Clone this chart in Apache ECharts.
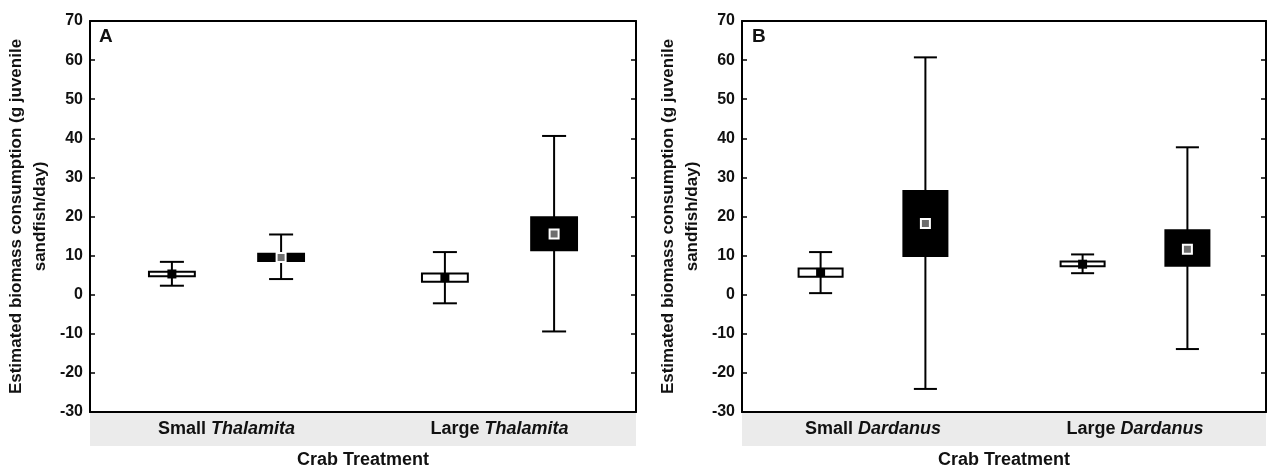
<!DOCTYPE html>
<html>
<head>
<meta charset="utf-8">
<title>Crab Treatment</title>
<script src="https://cdn.jsdelivr.net/npm/echarts@6/dist/echarts.min.js"></script>
<style>
  html, body { margin: 0; padding: 0; background: #fff; }
  #chart { width: 1268px; height: 468px; }
</style>
</head>
<body>
<div id="chart"></div>
<script>
  // categories
  var categoriesA = ['Small Thalamita', 'Large Thalamita'];
  var categoriesB = ['Small Dardanus', 'Large Dardanus'];

  // y axis ticks
  var yMin = -30;
  var yMax = 70;
  var yStep = 10;

  // each item: [min, lower box, mean, upper box, max]
  var openA = [[2.3, 4.7, 5.3, 5.9, 8.4], [-2.2, 3.3, 4.4, 5.4, 10.9]];
  var filledA = [[4.0, 8.6, 9.5, 10.5, 15.4], [-9.4, 11.4, 15.5, 19.8, 40.6]];
  var openB = [[0.4, 4.6, 5.7, 6.7, 10.9], [5.5, 7.3, 7.8, 8.5, 10.3]];
  var filledB = [[-24.1, 9.9, 18.2, 26.5, 60.7], [-13.9, 7.4, 11.6, 16.5, 37.7]];

  var yTitle = 'Estimated biomass consumption (g juvenile\nsandfish/day)';
  var xTitle = 'Crab Treatment';
  var font = "'Liberation Sans', Arial, sans-serif";

  var chart = echarts.init(document.getElementById('chart'));

  var gridA = { left: 90, right: 632, top: 21, bottom: 56, containLabel: false, outerBoundsMode: 'none' };
  var gridB = { left: 742, right: 2, top: 21, bottom: 56, containLabel: false, outerBoundsMode: 'none' };
  var bandA = (1268 - gridA.left - gridA.right) / 2;
  var bandB = (1268 - gridB.left - gridB.right) / 2;

  function withIndex(rows) {
    return rows.map(function (r, i) { return [i].concat(r); });
  }

  // box + whisker + mean marker, shifted left (-1) or right (+1) inside the category
  function boxSeries(rows, filled, side, axisIdx) {
    return {
      type: 'custom',
      xAxisIndex: axisIdx,
      yAxisIndex: axisIdx,
      data: withIndex(rows),
      encode: { x: 0, y: [1, 2, 3, 4, 5] },
      renderItem: function (params, api) {
        var cat = api.value(0);
        var band = api.size([1, 0])[0];
        var x = api.coord([cat, 0])[0] + side * band * 0.2;
        var yLo = api.coord([cat, api.value(1)])[1];
        var yQ1 = api.coord([cat, api.value(2)])[1];
        var yMean = api.coord([cat, api.value(3)])[1];
        var yQ3 = api.coord([cat, api.value(4)])[1];
        var yHi = api.coord([cat, api.value(5)])[1];
        var bw = band * 0.168;
        var cw = band * 0.088;
        var ms = 9;
        var line = { stroke: '#000', lineWidth: 2 };
        return {
          type: 'group',
          children: [
            { type: 'line', shape: { x1: x, y1: yHi, x2: x, y2: yLo }, style: line },
            { type: 'line', shape: { x1: x - cw / 2, y1: yHi, x2: x + cw / 2, y2: yHi }, style: line },
            { type: 'line', shape: { x1: x - cw / 2, y1: yLo, x2: x + cw / 2, y2: yLo }, style: line },
            { type: 'rect', shape: { x: x - bw / 2, y: yQ3, width: bw, height: yQ1 - yQ3 },
              style: { fill: filled ? '#000' : '#fff', stroke: '#000', lineWidth: 2 } },
            { type: 'rect', shape: { x: x - ms / 2, y: yMean - ms / 2, width: ms, height: ms },
              style: filled ? { fill: '#6e6e6e', stroke: '#fff', lineWidth: 2 } : { fill: '#000' } }
          ]
        };
      }
    };
  }

  function catAxes(cats, band, gridIndex) {
    return [
      {
        type: 'category', gridIndex: gridIndex, data: cats, position: 'bottom',
        name: xTitle, nameLocation: 'middle', nameGap: 38,
        nameTextStyle: { fontFamily: font, fontWeight: 'bold', fontSize: 18, color: '#111' },
        axisLine: { onZero: false, lineStyle: { color: '#000', width: 2 } },
        axisTick: { alignWithLabel: true, inside: true, length: 5, lineStyle: { color: '#000', width: 1.5 } },
        axisLabel: {
          margin: 1, interval: 0,
          width: band, height: 33, lineHeight: 33,
          backgroundColor: '#ebebeb', align: 'center',
          fontFamily: font, fontWeight: 'bold', fontSize: 18, color: '#111',
          formatter: function (v) { return v.replace(/ (\S+)$/, ' {i|$1}'); },
          rich: { i: { fontFamily: font, fontWeight: 'bold', fontStyle: 'italic', fontSize: 18, color: '#111', lineHeight: 33 } }
        }
      },
      {
        type: 'category', gridIndex: gridIndex, data: cats, position: 'top',
        axisLine: { onZero: false, lineStyle: { color: '#000', width: 2 } },
        axisTick: { alignWithLabel: true, inside: true, length: 5, lineStyle: { color: '#000', width: 1.5 } },
        axisLabel: { show: false }
      }
    ];
  }

  function valAxes(gridIndex) {
    return [
      {
        type: 'value', gridIndex: gridIndex, position: 'left',
        min: yMin, max: yMax, interval: yStep,
        name: yTitle, nameLocation: 'middle', nameRotate: 90, nameGap: 38,
        nameTextStyle: { fontFamily: font, fontWeight: 'bold', fontSize: 17, lineHeight: 24, color: '#111', align: 'center' },
        axisLine: { show: true, onZero: false, lineStyle: { color: '#000', width: 2 } },
        axisTick: { show: true, inside: true, length: 5, lineStyle: { color: '#000', width: 1.5 } },
        axisLabel: { margin: 7, fontFamily: font, fontWeight: 'bold', fontSize: 16, color: '#111' },
        splitLine: { show: false }
      },
      {
        type: 'value', gridIndex: gridIndex, position: 'right',
        min: yMin, max: yMax, interval: yStep,
        axisLine: { show: true, onZero: false, lineStyle: { color: '#000', width: 2 } },
        axisTick: { show: true, inside: true, length: 5, lineStyle: { color: '#000', width: 1.5 } },
        axisLabel: { show: false },
        splitLine: { show: false }
      }
    ];
  }

  var option = {
    backgroundColor: '#fff',
    animation: false,
    title: [
      { text: 'A', left: 99, top: 27, padding: 0, textStyle: { fontFamily: font, fontWeight: 'bold', fontSize: 19, color: '#111' } },
      { text: 'B', left: 752, top: 27, padding: 0, textStyle: { fontFamily: font, fontWeight: 'bold', fontSize: 19, color: '#111' } }
    ],
    grid: [gridA, gridB],
    xAxis: catAxes(categoriesA, bandA, 0).concat(catAxes(categoriesB, bandB, 1)),
    yAxis: valAxes(0).concat(valAxes(1)),
    series: [
      boxSeries(openA, false, -1, 0),
      boxSeries(filledA, true, 1, 0),
      boxSeries(openB, false, -1, 2),
      boxSeries(filledB, true, 1, 2)
    ]
  };

  chart.setOption(option);
</script>
</body>
</html>
